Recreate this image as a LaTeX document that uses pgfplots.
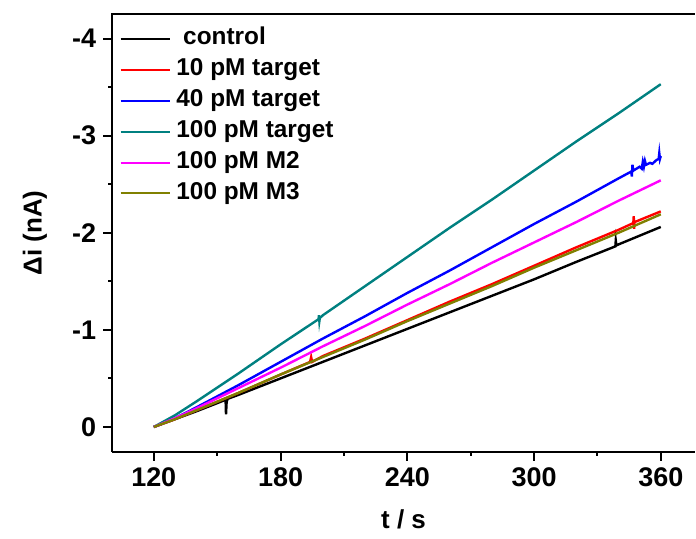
\documentclass[border=0pt]{standalone}
\usepackage{fontspec}
\setmainfont{Liberation Sans}
\usepackage{pgfplots}
\pgfplotsset{compat=1.18}
\usetikzlibrary{calc}
\definecolor{cteal}{RGB}{0,128,128}
\definecolor{colive}{RGB}{128,128,0}
\definecolor{cmag}{RGB}{255,0,255}
\begin{document}
\begin{tikzpicture}
\begin{axis}[
  name=ax,
  scale only axis,
  width=291.85pt, height=219pt,
  xmin=100.3, xmax=376.2,
  ymin=-4.25, ymax=0.254,
  y dir=reverse,
  axis x line*=bottom, axis y line*=left,
  axis line style={line width=1pt},
  xtick={120,180,240,300,360},
  ytick={0,-1,-2,-3,-4},
  yticklabels={0,-1,-2,-3,-4},
  minor x tick num=1, minor y tick num=1,
  tick align=outside,
  major tick length=4.5pt, minor tick length=2pt,
  every tick/.style={black, line width=1pt},
  tick label style={font=\fontsize{13.5}{16}\selectfont\bfseries},
  /pgf/number format/assume math mode=true,
  xlabel={t / s},
  ylabel={Δi (nA)},
  every axis x label/.style={at={(axis description cs:0.5,-0.1546)}, anchor=center},
  every axis y label/.style={at={(axis description cs:-0.1324,0.5)}, anchor=center, rotate=90},
  label style={font=\fontsize{13}{15}\selectfont\bfseries},
  legend cell align=left,
  legend style={
    draw=none, fill=none, inner sep=0pt,
    at={(axis description cs:0.012,0.977)}, anchor=north west,
    font=\fontsize{12.2}{14}\selectfont\bfseries,
    nodes={inner sep=1pt, text height=9pt, text depth=3pt},
    row sep=1.5pt, column sep=1.5pt,
  },
  legend image code/.code={\draw[#1, line width=1pt] (0pt,0pt) -- (25pt,0pt);},
  every axis plot/.append style={line width=1.2pt, no markers},
]
\addplot[black] table {
120 0
130 -0.08
140 -0.16
150 -0.245
154 -0.28
154.2 -0.13
154.5 -0.26
155 -0.29
160 -0.33
180 -0.50
200 -0.67
220 -0.84
240 -1.01
260 -1.18
280 -1.35
300 -1.52
320 -1.70
338.5 -1.86
338.7 -1.92
339 -1.87
340 -1.88
360 -2.06
};
\addplot[red] table {
120 0
130 -0.08
140 -0.17
160 -0.35
180 -0.54
194 -0.67
194.5 -0.72
195 -0.67
200 -0.73
220 -0.91
240 -1.10
260 -1.29
280 -1.47
300 -1.66
320 -1.85
340 -2.03
347 -2.10
347.2 -2.17
347.4 -2.04
347.6 -2.11
360 -2.22
};
\addplot[blue] table {
120 0
130 -0.09
140 -0.20
160 -0.43
180 -0.67
200 -0.91
220 -1.14
240 -1.38
260 -1.61
280 -1.85
300 -2.09
320 -2.32
340 -2.56
346 -2.63
346.3 -2.58
346.6 -2.70
347 -2.64
350 -2.68
351 -2.66
351.5 -2.73
352 -2.68
352.5 -2.74
353 -2.70
355 -2.72
356 -2.71
358 -2.75
359 -2.76
359.3 -2.82
359.6 -2.76
360 -2.79
};
\addplot[cteal] table {
120 0
130 -0.12
140 -0.26
160 -0.55
180 -0.85
198 -1.11
198.2 -1.15
198.4 -1.09
198.6 -1.12
200 -1.15
220 -1.45
240 -1.75
260 -2.05
280 -2.34
300 -2.64
320 -2.94
340 -3.23
360 -3.53
};
\addplot[cmag] table {
120 0
130 -0.09
140 -0.19
160 -0.40
180 -0.61
200 -0.83
220 -1.04
240 -1.26
260 -1.47
280 -1.69
300 -1.90
320 -2.11
340 -2.33
360 -2.54
};
\addplot[colive] table {
120 0
130 -0.08
140 -0.17
160 -0.35
180 -0.54
200 -0.72
220 -0.90
240 -1.09
260 -1.27
280 -1.45
300 -1.64
320 -1.82
340 -2.00
360 -2.19
};
\legend{\ control, 10 pM target, 40 pM target, 100 pM target, 100 pM M2, 100 pM M3}
\end{axis}
\draw[line width=1pt] ($(ax.north west)+(-0.5pt,0)$) -- (ax.north east);
\path ($(ax.south west)+(-56.15pt,-43.35pt)$) rectangle ($(ax.north east)+(0,7.15pt)$);
\end{tikzpicture}
\end{document}
